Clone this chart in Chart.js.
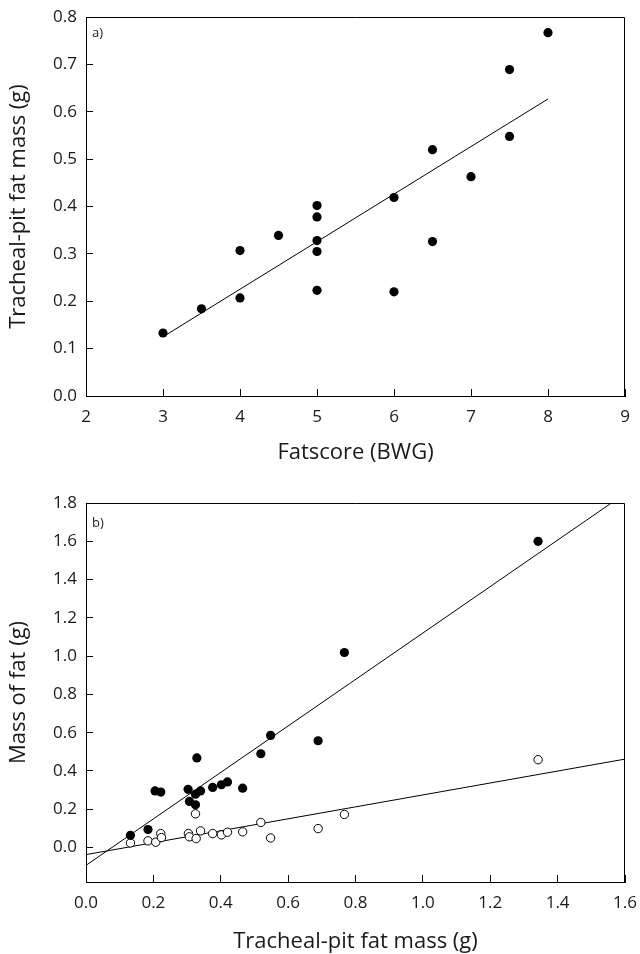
<!DOCTYPE html>
<html>
<head>
<meta charset="utf-8">
<script src="https://cdn.jsdelivr.net/npm/chart.js@4.4.1/dist/chart.umd.min.js"></script>
<style>
  body { margin: 0; background: #fff; }
  .box { position: relative; width: 640px; }
</style>
</head>
<body>
<div class="box" style="height:470px"><canvas id="chartA"></canvas></div>
<div class="box" style="height:484px"><canvas id="chartB"></canvas></div>
<script>
// panel a) fatscore vs tracheal-pit fat
const fatscore = [3, 3.5, 4, 4, 4.5, 5, 5, 5, 5, 5, 6, 6, 6.5, 6.5, 7, 7.5, 7.5, 8];
const pitMassA = [0.133, 0.184, 0.307, 0.207, 0.339, 0.402, 0.378, 0.328, 0.305, 0.223, 0.419, 0.220, 0.520, 0.326, 0.463, 0.689, 0.548, 0.767];
const fitAx = [3, 8];
const fitAy = [0.125, 0.627];
const xTicksA = [2, 3, 4, 5, 6, 7, 8, 9];
const yTicksA = [0, 0.1, 0.2, 0.3, 0.4, 0.5, 0.6, 0.7, 0.8];

// panel b) tracheal-pit fat vs mass of fat
const pitFilled = [0.132, 0.184, 0.205, 0.222, 0.303, 0.307, 0.325, 0.329, 0.325, 0.340, 0.376, 0.402, 0.420, 0.465, 0.519, 0.548, 0.689, 0.767, 1.342];
const fatFilled = [0.064, 0.094, 0.296, 0.290, 0.304, 0.241, 0.223, 0.468, 0.279, 0.296, 0.314, 0.328, 0.343, 0.310, 0.490, 0.586, 0.558, 1.019, 1.600];
const pitOpen = [0.132, 0.184, 0.207, 0.222, 0.224, 0.304, 0.307, 0.325, 0.327, 0.340, 0.376, 0.402, 0.420, 0.465, 0.519, 0.548, 0.689, 0.767, 1.342];
const fatOpen = [0.024, 0.035, 0.028, 0.073, 0.052, 0.073, 0.056, 0.176, 0.047, 0.087, 0.073, 0.066, 0.080, 0.082, 0.131, 0.050, 0.099, 0.173, 0.459];
const fitFilledX = [0, 1.6];
const fitFilledY = [-0.093, 1.849];
const fitOpenX = [0, 1.6];
const fitOpenY = [-0.037, 0.462];
const xTicksB = [0, 0.2, 0.4, 0.6, 0.8, 1.0, 1.2, 1.4, 1.6];
const yTicksB = [0, 0.2, 0.4, 0.6, 0.8, 1.0, 1.2, 1.4, 1.6, 1.8];

const pts = (xs, ys) => xs.map((x, i) => ({ x: x, y: ys[i] }));

Chart.defaults.font.family = "'Open Sans', sans-serif";
Chart.defaults.color = '#1a1a1a';

const framePlugin = {
  id: 'frame',
  afterDraw(chart, args, opts) {
    const { ctx, chartArea: a } = chart;
    ctx.save();
    ctx.strokeStyle = '#000';
    ctx.lineWidth = 1;
    ctx.beginPath();
    ctx.moveTo(Math.round(a.left), Math.round(a.top) + 0.5);
    ctx.lineTo(Math.round(a.right) - 0.5, Math.round(a.top) + 0.5);
    ctx.lineTo(Math.round(a.right) - 0.5, Math.round(a.bottom));
    ctx.stroke();
    ctx.font = "13px 'Open Sans', sans-serif";
    ctx.fillStyle = '#1a1a1a';
    ctx.textBaseline = 'middle';
    ctx.fillText(opts.label, a.left + 6, a.top + opts.labelY);
    ctx.restore();
  },
};

function axis(opts) {
  return {
    type: 'linear',
    min: opts.min,
    max: opts.max,
    border: { display: true, color: '#000', width: 1 },
    grid: { drawOnChartArea: false, drawTicks: true, tickLength: -7, color: '#000', lineWidth: 1 },
    ticks: {
      font: { size: 17 },
      padding: opts.pad,
      maxRotation: 0,
      callback: opts.fmt,
    },
    afterBuildTicks: (scale) => {
      scale.ticks = opts.ticks.map((v) => ({ value: v }));
    },
    afterFit: (s) => {
      opts.fit(s);
      s.paddingLeft = 0;
      s.paddingRight = 0;
      s.paddingTop = 0;
      s.paddingBottom = 0;
    },
    title: {
      display: true,
      text: opts.title,
      font: { size: 22 },
      padding: opts.titlePad,
    },
  };
}

new Chart(document.getElementById('chartA'), {
  type: 'scatter',
  data: {
    datasets: [
      {
        label: 'Birds',
        data: pts(fatscore, pitMassA),
        pointRadius: 4.6,
        pointBackgroundColor: '#000',
        pointBorderColor: '#000',
        pointBorderWidth: 0,
      },
      {
        label: 'Fit',
        type: 'line',
        data: pts(fitAx, fitAy),
        borderColor: '#000',
        borderWidth: 1,
        pointRadius: 0,
        fill: false,
      },
    ],
  },
  options: {
    animation: false,
    responsive: true,
    maintainAspectRatio: false,
    layout: { padding: { top: 17, right: 15, left: 0, bottom: 0 } },
    scales: {
      x: axis({
        min: 2, max: 9, ticks: xTicksA, pad: 18, title: 'Fatscore (BWG)',
        titlePad: { top: 0, bottom: 4 },
        fmt: (v) => String(v),
        fit: (s) => { s.height = 74; },
      }),
      y: axis({
        min: 0, max: 0.8, ticks: yTicksA, pad: 16, title: 'Tracheal-pit fat mass (g)',
        titlePad: { top: 6, bottom: 0 },
        fmt: (v) => v.toFixed(1),
        fit: (s) => { s.width = 86; },
      }),
    },
    plugins: {
      legend: { display: false },
      tooltip: { enabled: false },
      frame: { label: 'a)', labelY: 16 },
    },
  },
  plugins: [framePlugin],
});

new Chart(document.getElementById('chartB'), {
  type: 'scatter',
  data: {
    datasets: [
      {
        label: 'Total fat',
        data: pts(pitFilled, fatFilled),
        pointRadius: 4.6,
        pointBackgroundColor: '#000',
        pointBorderColor: '#000',
        pointBorderWidth: 0,
      },
      {
        label: 'Other fat',
        data: pts(pitOpen, fatOpen),
        pointRadius: 4.2,
        pointBackgroundColor: '#fff',
        pointBorderColor: '#000',
        pointBorderWidth: 1,
      },
      {
        label: 'Fit total',
        type: 'line',
        data: pts(fitFilledX, fitFilledY),
        borderColor: '#000',
        borderWidth: 1,
        pointRadius: 0,
        fill: false,
      },
      {
        label: 'Fit other',
        type: 'line',
        data: pts(fitOpenX, fitOpenY),
        borderColor: '#000',
        borderWidth: 1,
        pointRadius: 0,
        fill: false,
      },
    ],
  },
  options: {
    animation: false,
    responsive: true,
    maintainAspectRatio: false,
    layout: { padding: { top: 33, right: 15, left: 0, bottom: 0 } },
    scales: {
      x: axis({
        min: 0, max: 1.6, ticks: xTicksB, pad: 18, title: 'Tracheal-pit fat mass (g)',
        titlePad: { top: 0, bottom: -1 },
        fmt: (v) => v.toFixed(1),
        fit: (s) => { s.height = 72; },
      }),
      y: axis({
        min: -0.18, max: 1.8, ticks: yTicksB, pad: 16, title: 'Mass of fat (g)',
        titlePad: { top: 6, bottom: 0 },
        fmt: (v) => v.toFixed(1),
        fit: (s) => { s.width = 86; },
      }),
    },
    plugins: {
      legend: { display: false },
      tooltip: { enabled: false },
      frame: { label: 'b)', labelY: 20 },
    },
  },
  plugins: [framePlugin],
});
</script>
</body>
</html>
